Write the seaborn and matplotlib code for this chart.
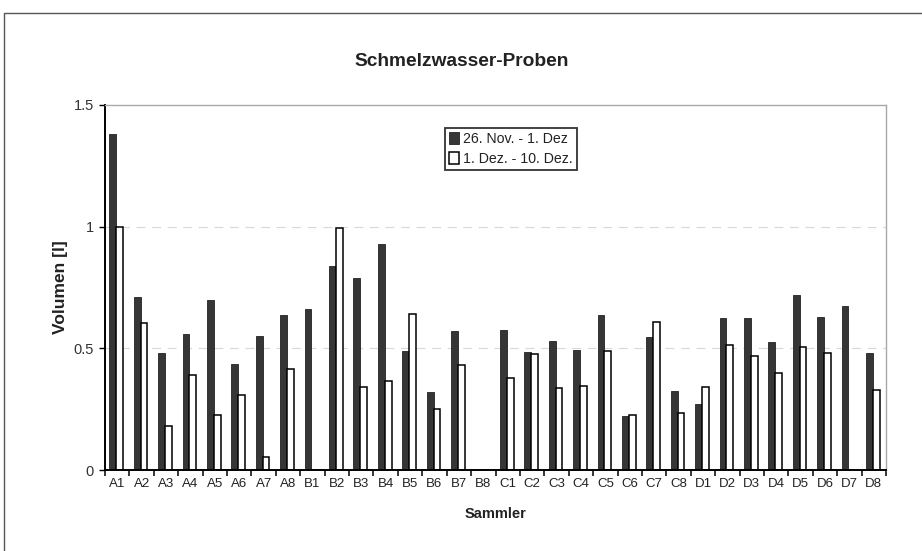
import matplotlib
matplotlib.use("Agg")
import matplotlib.pyplot as plt
from matplotlib.patches import Rectangle, Patch
from matplotlib.ticker import FixedLocator, FuncFormatter
import seaborn as sns
import pandas as pd
import numpy as np

categories = ["A1", "A2", "A3", "A4", "A5", "A6", "A7", "A8",
              "B1", "B2", "B3", "B4", "B5", "B6", "B7", "B8",
              "C1", "C2", "C3", "C4", "C5", "C6", "C7", "C8",
              "D1", "D2", "D3", "D4", "D5", "D6", "D7", "D8"]
series_names = ["26. Nov. - 1. Dez", "1. Dez. - 10. Dez."]
period1 = [1.38, 0.71, 0.48, 0.56, 0.70, 0.435, 0.55, 0.635,
           0.66, 0.84, 0.79, 0.93, 0.49, 0.32, 0.57, 0.0,
           0.575, 0.485, 0.53, 0.495, 0.635, 0.22, 0.545, 0.325,
           0.27, 0.625, 0.625, 0.525, 0.72, 0.63, 0.675, 0.48]
period2 = [1.0, 0.605, 0.18, 0.39, 0.225, 0.31, 0.055, 0.415,
           0.0, 0.995, 0.34, 0.365, 0.64, 0.25, 0.43, 0.0,
           0.38, 0.475, 0.335, 0.345, 0.49, 0.225, 0.61, 0.235,
           0.34, 0.515, 0.47, 0.40, 0.505, 0.48, 0.0, 0.33]
yticks = [0, 0.5, 1, 1.5]

df = pd.DataFrame({
    "Sammler": categories * 2,
    "Volumen": period1 + period2,
    "Periode": [series_names[0]] * len(categories) + [series_names[1]] * len(categories),
})

sns.set_theme(style="white")
plt.rcParams["font.family"] = ["Liberation Sans", "DejaVu Sans"]

fig = plt.figure(figsize=(9.22, 5.51), dpi=100)
ax = fig.add_axes([105 / 922, 1 - 470 / 551, (886 - 105) / 922, (470 - 105) / 551])

dark = "#363636"
sns.barplot(data=df, x="Sammler", y="Volumen", hue="Periode", order=categories,
            hue_order=series_names, palette=[dark, "white"], width=0.56,
            dodge=True, legend=False, ax=ax, saturation=1)
for i, cont in enumerate(ax.containers):
    for bar in cont:
        if i == 0:
            bar.set_edgecolor("#222222")
            bar.set_linewidth(0.6)
        else:
            bar.set_edgecolor("black")
            bar.set_linewidth(1.1)
        bar.set_x(bar.get_x() - 0.04)

ax.set_ylim(0, 1.5)
ax.set_xlim(-0.5, len(categories) - 0.5)
ax.set_yticks(yticks)
ax.yaxis.set_major_formatter(FuncFormatter(lambda v, p: f"{v:g}"))
for y in [0.5, 1.0]:
    ax.axhline(y, color="#d8d8d8", lw=0.8, ls=(0, (8, 6)), zorder=0)

ax.set_xticks(range(len(categories)))
ax.set_xticklabels(categories)
ax.xaxis.set_minor_locator(FixedLocator(np.arange(-0.5, len(categories), 1.0)))
ax.tick_params(axis="x", which="major", length=0, pad=6, labelsize=9.5, colors="#222222")
ax.tick_params(axis="x", which="minor", bottom=True, length=4, width=1.1, color="black",
               direction="out")
ax.tick_params(axis="y", which="major", length=4, width=1, color="black", direction="out",
               labelsize=10.5, labelcolor="#333333", left=True, pad=4)

for side in ["left", "bottom"]:
    ax.spines[side].set_color("black")
    ax.spines[side].set_linewidth(1.4)
for side in ["top", "right"]:
    ax.spines[side].set_color("#a8a8a8")
    ax.spines[side].set_linewidth(1.0)

ax.set_xlabel("Sammler", fontsize=10.5, fontweight="bold", color="#222222", labelpad=12)
ax.set_ylabel("Volumen [l]", fontsize=12.5, fontweight="bold", color="#222222", labelpad=4)

fig.text(462 / 922, 1 - 62 / 551, "Schmelzwasser-Proben", ha="center", va="center",
         fontsize=13.8, fontweight="bold", color="#222222")

handles = [Patch(facecolor=dark, edgecolor="#222222", lw=0.6),
           Patch(facecolor="white", edgecolor="black", lw=1.1)]
leg = ax.legend(handles, series_names, loc="upper left",
                bbox_to_anchor=(445 / 922, 1 - 128 / 551), bbox_transform=fig.transFigure,
                frameon=True, fancybox=False, fontsize=10.2, handlelength=0.7,
                handleheight=0.9, handletextpad=0.3, borderpad=0.3, labelspacing=0.4,
                borderaxespad=0)
leg.get_frame().set_edgecolor("black")
leg.get_frame().set_linewidth(1.3)
for t in leg.get_texts():
    t.set_color("#222222")

fig.patches.append(Rectangle((4 / 922, -0.1), 1.2, 1 - 13 / 551 + 0.1,
                             transform=fig.transFigure, fill=False,
                             edgecolor="#555555", lw=1.0, zorder=0))

fig.savefig("out.png", dpi=100)
